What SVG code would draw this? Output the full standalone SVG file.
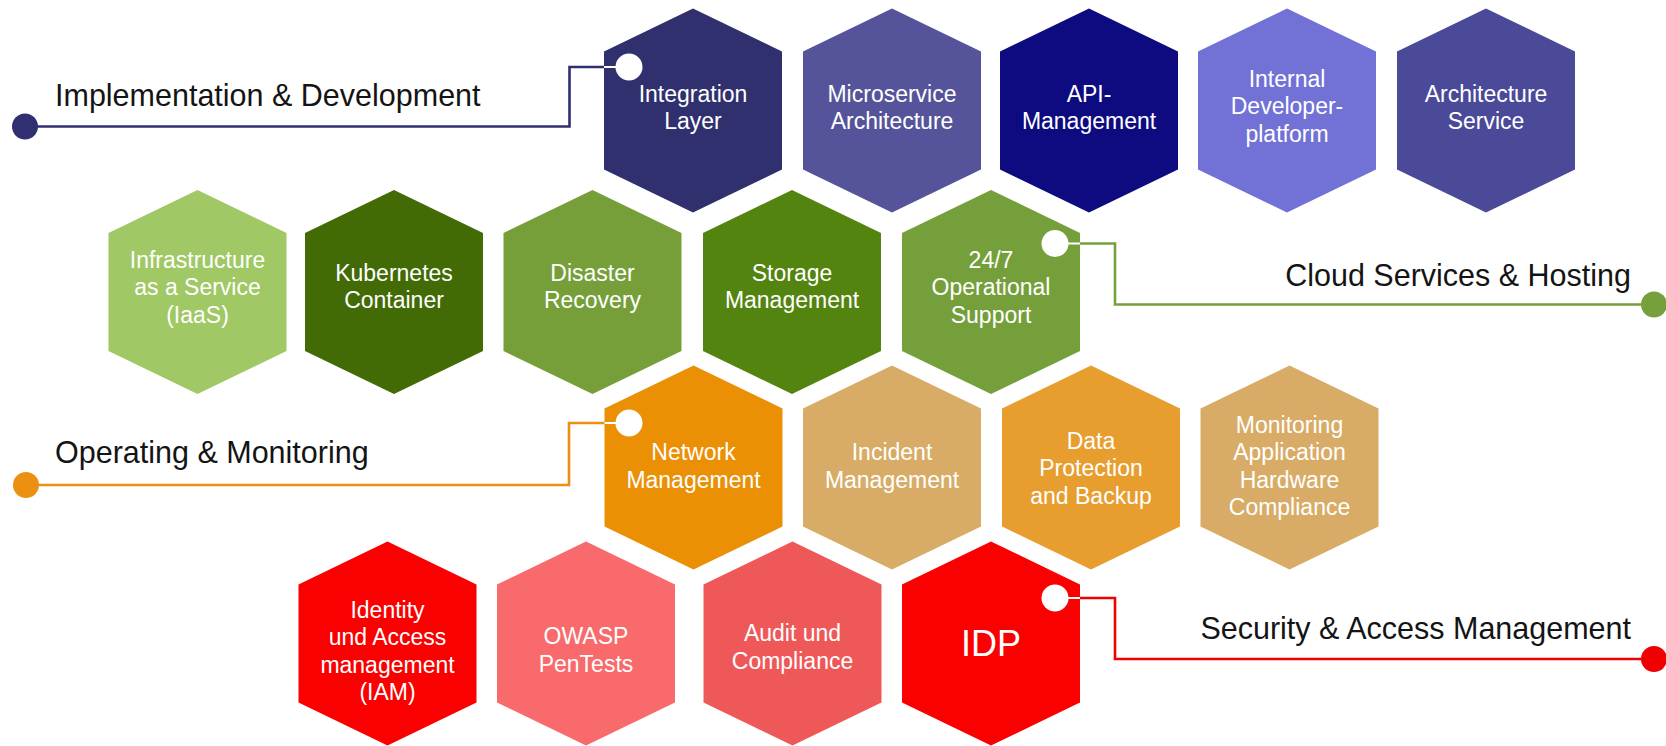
<svg xmlns="http://www.w3.org/2000/svg" xmlns:xlink="http://www.w3.org/1999/xlink" width="1666" height="746" viewBox="0 0 1666 746">
  <style>
    .lbl { font-family: "Liberation Sans", Arial, sans-serif; font-size: 23px; fill: #ffffff; text-anchor: middle; }
    .big { font-family: "Liberation Sans", Arial, sans-serif; font-size: 36px; fill: #ffffff; text-anchor: middle; }
    .title { font-family: "Liberation Sans", Arial, sans-serif; font-size: 30.5px; fill: #141414; }
    .conn { fill: none; stroke-width: 2.6; stroke-linejoin: miter; }
    .inner { fill: none; stroke: #ffffff; stroke-width: 2; }
    .port { fill: #ffffff; }
  </style>
  <defs>
    <polygon id="hex" points="0,-102 89,-59 89,59 0,102 -89,59 -89,-59"/>
  </defs>
  <rect width="1666" height="746" fill="#ffffff"/>

  <!-- Row 1 -->
  <g id="integration-layer">
    <use xlink:href="#hex" href="#hex" transform="translate(693,110.5)" fill="#30306F"/>
    <text class="lbl"><tspan x="693" y="101.5">Integration</tspan><tspan x="693" y="129">Layer</tspan></text>
  </g>
  <g id="microservice-architecture">
    <use xlink:href="#hex" href="#hex" transform="translate(892,110.5)" fill="#55549A"/>
    <text class="lbl"><tspan x="892" y="101.5">Microservice</tspan><tspan x="892" y="129">Architecture</tspan></text>
  </g>
  <g id="api-management">
    <use xlink:href="#hex" href="#hex" transform="translate(1089,110.5)" fill="#0E0B80"/>
    <text class="lbl"><tspan x="1089" y="101.5">API-</tspan><tspan x="1089" y="129">Management</tspan></text>
  </g>
  <g id="internal-developer-platform">
    <use xlink:href="#hex" href="#hex" transform="translate(1287,110.5)" fill="#7171D6"/>
    <text class="lbl"><tspan x="1287" y="86.5">Internal</tspan><tspan x="1287" y="114">Developer-</tspan><tspan x="1287" y="141.5">platform</tspan></text>
  </g>
  <g id="architecture-service">
    <use xlink:href="#hex" href="#hex" transform="translate(1486,110.5)" fill="#4A4A99"/>
    <text class="lbl"><tspan x="1486" y="101.5">Architecture</tspan><tspan x="1486" y="129">Service</tspan></text>
  </g>

  <!-- Row 2 -->
  <g id="iaas">
    <use xlink:href="#hex" href="#hex" transform="translate(197.5,292)" fill="#A0C865"/>
    <text class="lbl"><tspan x="197.5" y="267.5">Infrastructure</tspan><tspan x="197.5" y="295">as a Service</tspan><tspan x="197.5" y="322.5">(IaaS)</tspan></text>
  </g>
  <g id="kubernetes-container">
    <use xlink:href="#hex" href="#hex" transform="translate(394,292)" fill="#426B06"/>
    <text class="lbl"><tspan x="394" y="280.5">Kubernetes</tspan><tspan x="394" y="308">Container</tspan></text>
  </g>
  <g id="disaster-recovery">
    <use xlink:href="#hex" href="#hex" transform="translate(592.5,292)" fill="#769F3A"/>
    <text class="lbl"><tspan x="592.5" y="280.5">Disaster</tspan><tspan x="592.5" y="308">Recovery</tspan></text>
  </g>
  <g id="storage-management">
    <use xlink:href="#hex" href="#hex" transform="translate(792,292)" fill="#53840F"/>
    <text class="lbl"><tspan x="792" y="280.5">Storage</tspan><tspan x="792" y="308">Management</tspan></text>
  </g>
  <g id="operational-support">
    <use xlink:href="#hex" href="#hex" transform="translate(991,292)" fill="#759F3B"/>
    <text class="lbl"><tspan x="991" y="267.5">24/7</tspan><tspan x="991" y="295">Operational</tspan><tspan x="991" y="322.5">Support</tspan></text>
  </g>

  <!-- Row 3 -->
  <g id="network-management">
    <use xlink:href="#hex" href="#hex" transform="translate(693.5,467.5)" fill="#EB8F05"/>
    <text class="lbl"><tspan x="693.5" y="460">Network</tspan><tspan x="693.5" y="487.5">Management</tspan></text>
  </g>
  <g id="incident-management">
    <use xlink:href="#hex" href="#hex" transform="translate(892,467.5)" fill="#D8AC66"/>
    <text class="lbl"><tspan x="892" y="460">Incident</tspan><tspan x="892" y="487.5">Management</tspan></text>
  </g>
  <g id="data-protection">
    <use xlink:href="#hex" href="#hex" transform="translate(1091,467.5)" fill="#E79E2F"/>
    <text class="lbl"><tspan x="1091" y="448.5">Data</tspan><tspan x="1091" y="476">Protection</tspan><tspan x="1091" y="503.5">and Backup</tspan></text>
  </g>
  <g id="monitoring">
    <use xlink:href="#hex" href="#hex" transform="translate(1289.5,467.5)" fill="#D8AC66"/>
    <text class="lbl"><tspan x="1289.5" y="432.5">Monitoring</tspan><tspan x="1289.5" y="460">Application</tspan><tspan x="1289.5" y="487.5">Hardware</tspan><tspan x="1289.5" y="515">Compliance</tspan></text>
  </g>

  <!-- Row 4 -->
  <g id="iam">
    <use xlink:href="#hex" href="#hex" transform="translate(387.5,643.5)" fill="#FA0000"/>
    <text class="lbl"><tspan x="387.5" y="617.5">Identity</tspan><tspan x="387.5" y="645">und Access</tspan><tspan x="387.5" y="672.5">management</tspan><tspan x="387.5" y="700">(IAM)</tspan></text>
  </g>
  <g id="owasp-pentests">
    <use xlink:href="#hex" href="#hex" transform="translate(586,643.5)" fill="#F86A6B"/>
    <text class="lbl"><tspan x="586" y="644">OWASP</tspan><tspan x="586" y="671.5">PenTests</tspan></text>
  </g>
  <g id="audit-compliance">
    <use xlink:href="#hex" href="#hex" transform="translate(792.5,643.5)" fill="#EF5859"/>
    <text class="lbl"><tspan x="792.5" y="641">Audit und</tspan><tspan x="792.5" y="668.5">Compliance</tspan></text>
  </g>
  <g id="idp">
    <use xlink:href="#hex" href="#hex" transform="translate(991,643.5)" fill="#FA0000"/>
    <text class="big" x="991" y="656">IDP</text>
  </g>

  <!-- Category labels -->
  <g id="label-implementation">
    <text class="title" x="55" y="106">Implementation &amp; Development</text>
  </g>
  <g id="label-cloud">
    <text class="title" x="1631" y="286" text-anchor="end">Cloud Services &amp; Hosting</text>
  </g>
  <g id="label-operating">
    <text class="title" x="55" y="463">Operating &amp; Monitoring</text>
  </g>
  <g id="label-security">
    <text class="title" x="1631" y="639" text-anchor="end">Security &amp; Access Management</text>
  </g>

  <!-- Connectors -->
  <g id="connectors">
    <polyline class="conn" stroke="#2F2F72" points="25,126.5 569.5,126.5 569.5,67 615,67"/>
    <line class="inner" x1="604" y1="67" x2="616" y2="67"/>
    <circle cx="25" cy="126.5" r="13" fill="#2F2F72"/>
    <circle class="port" cx="629" cy="67" r="13.5"/>

    <polyline class="conn" stroke="#76A03C" points="1068,243.5 1115,243.5 1115,304.5 1654,304.5"/>
    <line class="inner" x1="1067" y1="243.5" x2="1080" y2="243.5"/>
    <circle cx="1654" cy="304.5" r="13" fill="#76A03C"/>
    <circle class="port" cx="1055" cy="243.5" r="13.5"/>

    <polyline class="conn" stroke="#EC9012" points="26,485 569,485 569,423 615,423"/>
    <line class="inner" x1="604.5" y1="423" x2="616" y2="423"/>
    <circle cx="26" cy="485" r="13" fill="#EC9012"/>
    <circle class="port" cx="629" cy="423" r="13.5"/>

    <polyline class="conn" stroke="#F00000" points="1068,598 1115,598 1115,659 1654,659"/>
    <line class="inner" x1="1067" y1="598" x2="1080" y2="598"/>
    <circle cx="1654" cy="659" r="13" fill="#F00000"/>
    <circle class="port" cx="1055" cy="598" r="13.5"/>
  </g>
</svg>
